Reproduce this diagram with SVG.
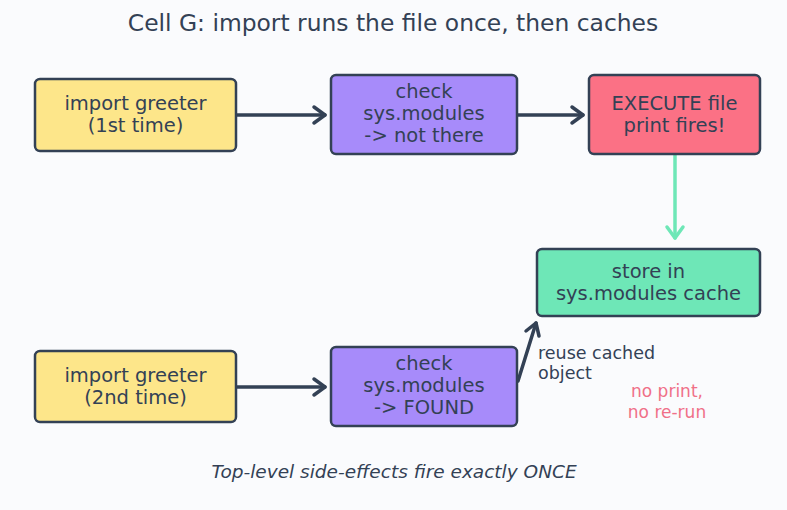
<svg xmlns="http://www.w3.org/2000/svg" width="787" height="510" viewBox="0 0 787 510">
<defs>
<style>
.box{stroke:#334155;stroke-width:2.5}
.t{font-family:"DejaVu Sans",sans-serif;font-size:19.5px;fill:#334155;text-anchor:middle}
.c{fill:none;stroke:#334155;stroke-width:3.5;stroke-linecap:round}
.h{fill:none;stroke:#334155;stroke-width:3.5;stroke-linecap:round;stroke-linejoin:round}
</style>
</defs>
<rect width="787" height="510" fill="#fafbfd"/>
<text x="393" y="31" class="t" style="font-size:23.4px">Cell G: import runs the file once, then caches</text>
<g id="connectors">
<line x1="237" y1="115" x2="325" y2="115" class="c"/>
<polyline points="314,107 325,115 314,123" class="h"/>
<line x1="518" y1="115" x2="583" y2="115" class="c"/>
<polyline points="572,107 583,115 572,123" class="h"/>
<line x1="675" y1="155" x2="675" y2="238" stroke="#6ee7b7" stroke-width="3.5" stroke-linecap="round"/>
<polyline points="667,227 675,238 683,227" fill="none" stroke="#6ee7b7" stroke-width="3.5" stroke-linecap="round" stroke-linejoin="round"/>
<line x1="237" y1="387" x2="325" y2="387" class="c"/>
<polyline points="314,379 325,387 314,395" class="h"/>
<line x1="518" y1="381" x2="536" y2="323" class="c"/>
<polyline points="526,331 536,323 539,336" class="h"/>
</g>
<g id="n1"><rect x="35" y="79" width="201" height="72" rx="5" fill="#fde68a" class="box"/>
<text x="135.5" y="110" class="t">import greeter</text><text x="135.5" y="132" class="t">(1st time)</text></g>
<g id="n2"><rect x="331" y="75" width="186" height="79" rx="5" fill="#a78bfa" class="box"/>
<text x="424" y="98" class="t">check</text><text x="424" y="120" class="t">sys.modules</text><text x="424" y="142" class="t">-&gt; not there</text></g>
<g id="n3"><rect x="589" y="75" width="171" height="79" rx="5" fill="#fb7185" class="box"/>
<text x="674.5" y="110" class="t">EXECUTE file</text><text x="674.5" y="132" class="t">print fires!</text></g>
<g id="n4"><rect x="537" y="249" width="223" height="67" rx="5" fill="#6ee7b7" class="box"/>
<text x="648.5" y="278" class="t">store in</text><text x="648.5" y="300" class="t">sys.modules cache</text></g>
<g id="n5"><rect x="35" y="351" width="201" height="71" rx="5" fill="#fde68a" class="box"/>
<text x="135.5" y="382" class="t">import greeter</text><text x="135.5" y="404" class="t">(2nd time)</text></g>
<g id="n6"><rect x="331" y="347" width="186" height="79" rx="5" fill="#a78bfa" class="box"/>
<text x="424" y="370" class="t">check</text><text x="424" y="392" class="t">sys.modules</text><text x="424" y="414" class="t">-&gt; FOUND</text></g>
<text x="538" y="359" class="t" style="text-anchor:start;font-size:17.5px">reuse cached</text>
<text x="538" y="379" class="t" style="text-anchor:start;font-size:17.5px">object</text>
<text x="667" y="397" class="t" style="font-size:17px;fill:#f07088">no print,</text>
<text x="667" y="418" class="t" style="font-size:17px;fill:#f07088">no re-run</text>
<text x="394" y="478" class="t" style="font-size:18.5px;font-style:italic">Top-level side-effects fire exactly ONCE</text>
</svg>
